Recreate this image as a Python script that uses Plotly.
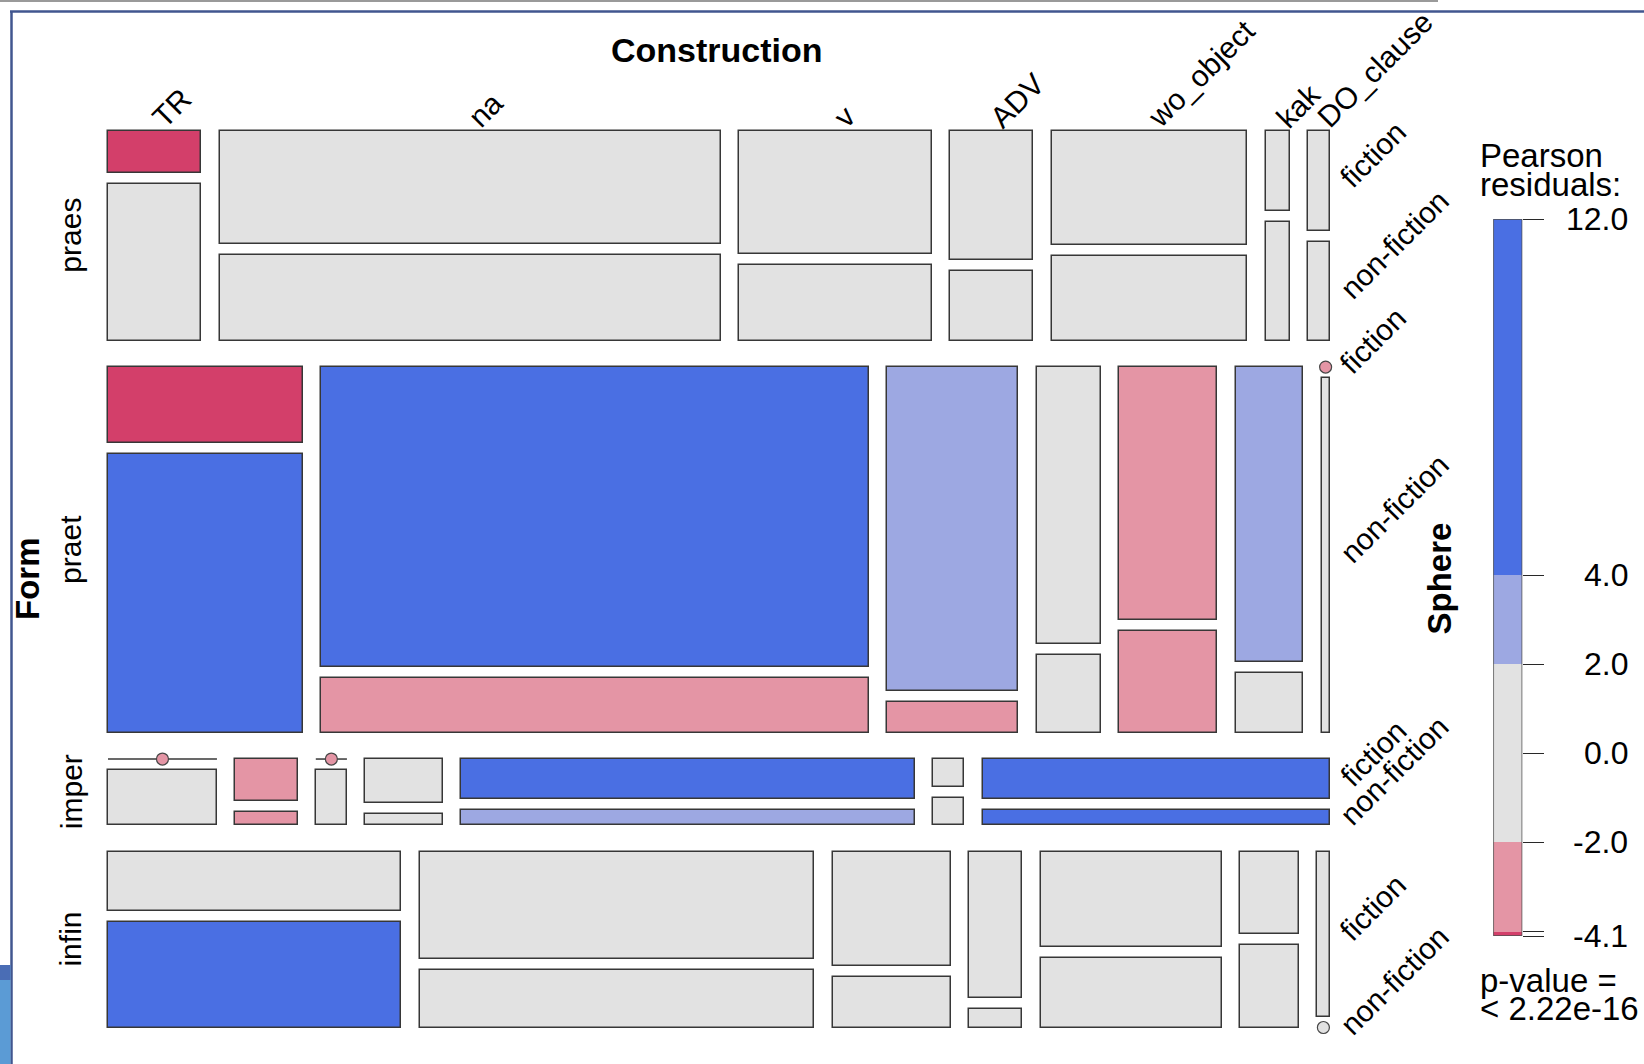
import plotly.graph_objects as go

# ---------------- data ----------------
forms = ["praes", "praet", "imper", "infin"]
constructions = ["TR", "na", "v", "ADV", "wo_object", "kak", "DO_clause"]
spheres = ["fiction", "non-fiction"]

# share of each Form (percent of all observations)
form_share = [25.7, 44.7, 8.1, 21.5]

# share of each Construction within a Form (percent)
cons_share_praes = [8.4, 45.1, 17.3, 7.5, 17.6, 2.2, 1.9]
cons_share_praet = [17.5, 49.3, 11.8, 5.8, 8.8, 6.1, 0.7]
cons_share_imper = [9.8, 5.6, 2.8, 7.0, 40.8, 2.8, 31.2]
cons_share_infin = [26.4, 35.5, 10.6, 4.8, 16.3, 5.3, 1.1]

# share of fiction within each Form x Construction cell (percent)
fiction_pct_praes = [21.4, 57.1, 61.9, 65.1, 57.7, 40.2, 50.5]
fiction_pct_praet = [21.5, 84.6, 91.4, 78.1, 71.4, 83.1, 0.0]
fiction_pct_imper = [0.0, 75.3, 0.0, 79.5, 72.5, 50.0, 72.5]
fiction_pct_infin = [36.2, 65.2, 69.6, 88.6, 57.6, 49.7, 100.0]

# Pearson residuals (estimated from the shading)
res_fic_praes = [-4.02, -0.6, 0.4, 1.1, 0.3, -0.7, -0.2]
res_non_praes = [1.6, -1.1, -0.5, -0.9, -0.8, 0.5, 0.1]
res_fic_praet = [-4.1, 12.0, 3.1, 0.5, -2.7, 2.4, -2.3]
res_non_praet = [6.6, -3.1, -2.5, 1.2, -2.3, 0.9, 1.3]
res_fic_imper = [-2.4, -2.9, -2.1, 0.3, 7.9, -0.4, 9.8]
res_non_imper = [1.2, -2.6, 1.7, -1.3, 3.3, 0.8, 5.2]
res_fic_infin = [-1.7, 0.4, -0.3, 1.2, -0.6, -1.0, 1.6]
res_non_infin = [5.5, -1.4, 0.2, -1.7, 0.9, 1.1, -1.2]

legend_breaks = [-4.1, -4.0, -2.0, 2.0, 4.0, 12.0]
legend_ticks = [12.0, 4.0, 2.0, 0.0, -2.0, -4.1]
legend_tick_marks = [12.0, 4.0, 2.0, 0.0, -2.0, -4.0, -4.1]
p_value_text = "< 2.22e-16"

cons_share = [cons_share_praes, cons_share_praet, cons_share_imper, cons_share_infin]
fiction_pct = [fiction_pct_praes, fiction_pct_praet, fiction_pct_imper, fiction_pct_infin]
res_fic = [res_fic_praes, res_fic_praet, res_fic_imper, res_fic_infin]
res_non = [res_non_praes, res_non_praet, res_non_imper, res_non_infin]

# ---------------- styling / layout constants ----------------
W, H = 1644, 1064
X0, X1 = 108.0, 1329.5
Y0, Y1 = 130.5, 1027.5
GAP_FORM, GAP_CONS, GAP_SPH = 26.3, 18.3, 11.0

BLUE = "#4A6FE3"
LBLUE = "#9DA8E2"
GRAY = "#E2E2E2"
PINK = "#E495A5"
DRED = "#D33F6A"
EDGE = "rgb(55,55,55)"
FONT = "Liberation Sans, Arial, sans-serif"


def shade(r):
    if r > 4:
        return BLUE
    if r > 2:
        return LBLUE
    if r >= -2:
        return GRAY
    if r >= -4:
        return PINK
    return DRED


# ---------------- mosaic geometry ----------------
avail_h = (Y1 - Y0) - GAP_FORM * (len(forms) - 1)
avail_w = (X1 - X0) - GAP_CONS * (len(constructions) - 1)
tot_form = sum(form_share)

bx, bw, bbase, bh, bcol = [], [], [], [], []
zl_x, zl_y = [], []
zd_x, zd_y, zd_c = [], [], []
row_centers = []
top_col_centers = []
sphere_label_pos = []  # (y_center, text)

y = Y0
for i, f in enumerate(forms):
    rh = avail_h * form_share[i] / tot_form
    row_centers.append(y + rh / 2)
    shares = cons_share[i]
    tot_c = sum(shares)
    x = X0
    for j, c in enumerate(constructions):
        cw = avail_w * shares[j] / tot_c
        ch = rh - GAP_SPH
        fh = ch * fiction_pct[i][j] / 100.0
        nh = ch - fh
        xc = x + cw / 2
        if i == 0:
            top_col_centers.append(xc)
        cells = [
            (y, fh, res_fic[i][j]),
            (y + fh + GAP_SPH, nh, res_non[i][j]),
        ]
        for (ytop, hh, r) in cells:
            if hh > 0.01:
                bx.append(xc); bw.append(cw); bbase.append(ytop); bh.append(hh); bcol.append(shade(r))
            else:
                zl_x += [x, x + cw, None]
                zl_y += [ytop, ytop, None]
                zd_x.append(xc); zd_y.append(ytop); zd_c.append(shade(r))
        if j == len(constructions) - 1:
            for k, (ytop, hh, r) in enumerate(cells):
                sphere_label_pos.append((ytop + hh / 2, spheres[k]))
        x += cw + GAP_CONS
    y += rh + GAP_FORM

fig = go.Figure()

fig.add_trace(go.Bar(
    x=bx, y=bh, base=bbase, width=bw,
    marker=dict(color=bcol, line=dict(color=EDGE, width=1.5)),
    hoverinfo="skip", showlegend=False,
))
fig.add_trace(go.Scatter(
    x=zl_x, y=zl_y, mode="lines", line=dict(color=EDGE, width=1.5),
    hoverinfo="skip", showlegend=False,
))
fig.add_trace(go.Scatter(
    x=zd_x, y=zd_y, mode="markers",
    marker=dict(size=12, color=zd_c, line=dict(color="rgb(70,70,70)", width=1.2)),
    hoverinfo="skip", showlegend=False,
))

# ---------------- legend colour bar ----------------
seg_base = legend_breaks[:-1]
seg_h = [legend_breaks[k + 1] - legend_breaks[k] for k in range(len(legend_breaks) - 1)]
seg_col = [shade((legend_breaks[k] + legend_breaks[k + 1]) / 2) for k in range(len(legend_breaks) - 1)]
fig.add_trace(go.Bar(
    x=[0] * len(seg_h), y=seg_h, base=seg_base, width=[1] * len(seg_h),
    marker=dict(color=seg_col, line=dict(width=0)),
    xaxis="x2", yaxis="y2", hoverinfo="skip", showlegend=False,
))

annotations = []
txt = dict(family=FONT, color="black")

# variable names
annotations.append(dict(text="<b>Construction</b>", x=(X0 + X1) / 2 - 2, y=50, xref="x", yref="y",
                        showarrow=False, font=dict(size=34, **txt), xanchor="center", yanchor="middle"))
annotations.append(dict(text="<b>Form</b>", x=27, y=(Y0 + Y1) / 2, xref="x", yref="y", textangle=-90,
                        showarrow=False, font=dict(size=33, **txt), xanchor="center", yanchor="middle"))
annotations.append(dict(text="<b>Sphere</b>", x=1438.5, y=(Y0 + Y1) / 2, xref="x", yref="y", textangle=-90,
                        showarrow=False, font=dict(size=33, **txt), xanchor="center", yanchor="middle"))

# Form levels
for i, f in enumerate(forms):
    annotations.append(dict(text=f, x=71, y=row_centers[i], xref="x", yref="y", textangle=-90,
                            showarrow=False, font=dict(size=30, **txt), xanchor="center", yanchor="middle"))
# Construction levels
for j, c in enumerate(constructions):
    annotations.append(dict(text=c, x=top_col_centers[j] - 11, y=136.5, xref="x", yref="y", textangle=-45,
                            showarrow=False, font=dict(size=30, **txt), xanchor="left", yanchor="bottom"))
# Sphere levels
for (yc, s) in sphere_label_pos:
    annotations.append(dict(text=s, x=X1 + 1.5, y=yc + 16, xref="x", yref="y", textangle=-45,
                            showarrow=False, font=dict(size=30, **txt), xanchor="left", yanchor="bottom"))

# legend texts
annotations.append(dict(text="Pearson", x=1478, y=155, xref="x", yref="y", showarrow=False,
                        font=dict(size=33, **txt), xanchor="left", yanchor="middle"))
annotations.append(dict(text="residuals:", x=1478, y=184, xref="x", yref="y", showarrow=False,
                        font=dict(size=33, **txt), xanchor="left", yanchor="middle"))
annotations.append(dict(text="p-value =", x=1478, y=980, xref="x", yref="y", showarrow=False,
                        font=dict(size=33, **txt), xanchor="left", yanchor="middle"))
annotations.append(dict(text=p_value_text, x=1478, y=1008, xref="x", yref="y", showarrow=False,
                        font=dict(size=33, **txt), xanchor="left", yanchor="middle"))
for t in legend_ticks:
    annotations.append(dict(text=f"{t:.1f}", x=1630, y=t, xref="x", yref="y2", showarrow=False,
                            font=dict(size=32, **txt), xanchor="right", yanchor="middle"))

shapes = [
    # legend bar outline
    dict(type="rect", xref="x2", yref="y2", x0=-0.5, x1=0.5, y0=legend_breaks[0], y1=legend_breaks[-1],
         line=dict(color="rgb(80,80,80)", width=1.5), fillcolor="rgba(0,0,0,0)"),
    # window frame decorations from the screenshot
    dict(type="line", xref="x", yref="y", x0=0, x1=1438, y0=1, y1=1, line=dict(color="#9a9a9a", width=2)),
    dict(type="line", xref="x", yref="y", x0=10, x1=W, y0=11.5, y1=11.5, line=dict(color="#41568f", width=2.5)),
    dict(type="line", xref="x", yref="y", x0=11.5, x1=11.5, y0=11, y1=H, line=dict(color="#41568f", width=2.5)),
    dict(type="rect", xref="x", yref="y", x0=0, x1=10.5, y0=965, y1=H, line=dict(width=0), fillcolor="#5b9bd5"),
    dict(type="rect", xref="x", yref="y", x0=0, x1=10.5, y0=965, y1=980, line=dict(width=0), fillcolor="#4a6db5"),
]

fig.update_layout(
    width=W, height=H,
    margin=dict(l=0, r=0, t=0, b=0),
    paper_bgcolor="white", plot_bgcolor="white",
    barmode="overlay", bargap=0,
    showlegend=False,
    xaxis=dict(range=[0, W], domain=[0, 1], visible=False, fixedrange=True),
    yaxis=dict(range=[H, 0], domain=[0, 1], visible=False, fixedrange=True),
    xaxis2=dict(range=[-0.5, 0.5], domain=[1493.3 / W, 1522.3 / W], anchor="y2", visible=False),
    yaxis2=dict(range=[legend_breaks[0], legend_breaks[-1]],
                domain=[1 - 936.0 / H, 1 - 219.0 / H], anchor="x2", side="right",
                showgrid=False, zeroline=False, showline=False, showticklabels=False,
                ticks="outside", ticklen=21, tickwidth=1.3, tickcolor="rgb(40,40,40)",
                tickmode="array", tickvals=legend_tick_marks),
    annotations=annotations,
    shapes=shapes,
)

fig.write_html("out.html")
